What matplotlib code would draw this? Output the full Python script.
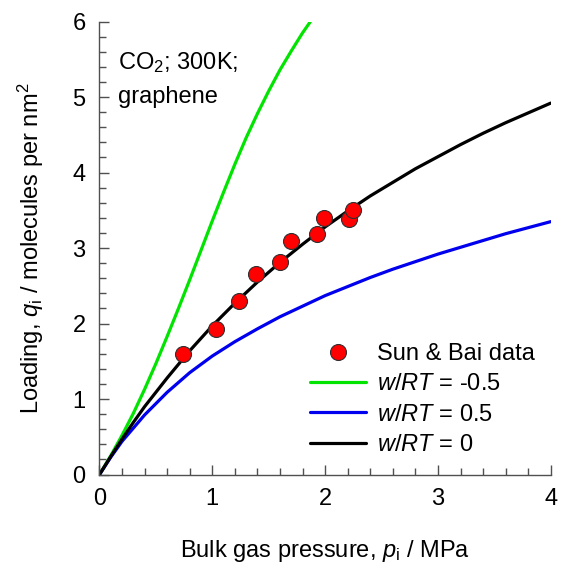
"""
CO2 adsorption on graphene at 300 K: Sun & Bai data vs isotherm fits
"""

import matplotlib
matplotlib.use('Agg')
import matplotlib.pyplot as plt
from matplotlib.ticker import MultipleLocator

plt.rcParams['font.family'] = ['Liberation Sans', 'DejaVu Sans']
plt.rcParams['mathtext.fontset'] = 'custom'
plt.rcParams['mathtext.rm'] = 'Liberation Sans'
plt.rcParams['mathtext.it'] = 'Liberation Sans:italic'

# Sun & Bai data (MPa, molecules per nm^2)
data_p = [0.74, 1.03, 1.24, 1.39, 1.60, 1.70, 1.93, 1.99, 2.21, 2.25]
data_q = [1.60, 1.93, 2.30, 2.66, 2.82, 3.09, 3.18, 3.40, 3.38, 3.51]

# w/RT = -0.5
green_p = [0.0, 0.1, 0.2, 0.3, 0.4, 0.5, 0.6, 0.7, 0.8, 0.9, 1.0,
           1.1, 1.2, 1.3, 1.4, 1.5, 1.6, 1.7, 1.8, 1.87]
green_q = [0.0, 0.25, 0.52, 0.81, 1.13, 1.47, 1.83, 2.20, 2.58, 2.97, 3.36,
           3.74, 4.11, 4.46, 4.78, 5.08, 5.36, 5.61, 5.85, 6.0]

# w/RT = 0.5
blue_p = [0.0, 0.1, 0.2, 0.4, 0.6, 0.8, 1.0, 1.2, 1.4, 1.6, 1.8, 2.0,
          2.2, 2.4, 2.6, 2.8, 3.0, 3.2, 3.4, 3.6, 3.8, 4.0]
blue_q = [0.0, 0.23, 0.44, 0.79, 1.09, 1.35, 1.57, 1.76, 1.93, 2.09, 2.23, 2.37,
          2.49, 2.61, 2.72, 2.82, 2.92, 3.01, 3.10, 3.19, 3.27, 3.35]

# w/RT = 0
black_p = [0.0, 0.1, 0.2, 0.3, 0.4, 0.6, 0.8, 1.0, 1.2, 1.4, 1.6, 1.8, 2.0,
           2.2, 2.4, 2.6, 2.8, 3.0, 3.2, 3.4, 3.6, 3.8, 4.0]
black_q = [0.0, 0.24, 0.47, 0.69, 0.90, 1.28, 1.64, 1.97, 2.27, 2.55, 2.81,
           3.05, 3.28, 3.49, 3.69, 3.87, 4.05, 4.21, 4.37, 4.52, 4.66, 4.79, 4.92]

FS = 17

fig = plt.figure(figsize=(5.62, 5.67), dpi=100)
ax = fig.add_axes([0.177, 0.163, 0.803, 0.799])

line_kw = dict(lw=2.3, solid_joinstyle='round', solid_capstyle='round')
ax.plot(data_p, data_q, 'o', ms=11.5, mfc='#ff0000', mec='#303030', mew=0.8,
        label='Sun & Bai data', zorder=5)
ax.plot(green_p, green_q, color='#00e400', label='$w$/$RT$ = -0.5', **line_kw)
ax.plot(blue_p, blue_q, color='#0000ee', label='$w$/$RT$ = 0.5', **line_kw)
ax.plot(black_p, black_q, color='black', label='$w$/$RT$ = 0', **line_kw)

ax.set_xlim(0, 4)
ax.set_ylim(0, 6)
ax.xaxis.set_major_locator(MultipleLocator(1))
ax.xaxis.set_minor_locator(MultipleLocator(0.2))
ax.yaxis.set_major_locator(MultipleLocator(1))
ax.yaxis.set_minor_locator(MultipleLocator(0.2))

for side in ['top', 'right']:
    ax.spines[side].set_visible(False)
for side in ['left', 'bottom']:
    ax.spines[side].set_color('#505050')
    ax.spines[side].set_linewidth(1.0)

ax.tick_params(which='both', direction='in', color='#505050', width=1.0,
               labelsize=FS)
ax.tick_params(which='major', length=7)
ax.tick_params(which='minor', length=5)
ax.tick_params(axis='x', which='major', pad=10)
ax.tick_params(axis='y', which='major', pad=10)

ax.set_xlabel(r'Bulk gas pressure, $p_\mathrm{i}$ / MPa', fontsize=FS, labelpad=20)
ax.set_ylabel(r'Loading, $q_\mathrm{i}$ / molecules per nm$^2$', fontsize=FS,
              labelpad=19)

ax.text(0.04, 0.937, 'CO$_2$; 300K;\ngraphene', transform=ax.transAxes,
        fontsize=FS, va='top', ha='left', linespacing=1.65)

ax.legend(loc='upper left', bbox_to_anchor=(0.466, 0.29), frameon=False,
          fontsize=FS, borderpad=0, borderaxespad=0, handlelength=2.4,
          handletextpad=0.45, labelspacing=0.35)

fig.savefig('out.png', dpi=100)
